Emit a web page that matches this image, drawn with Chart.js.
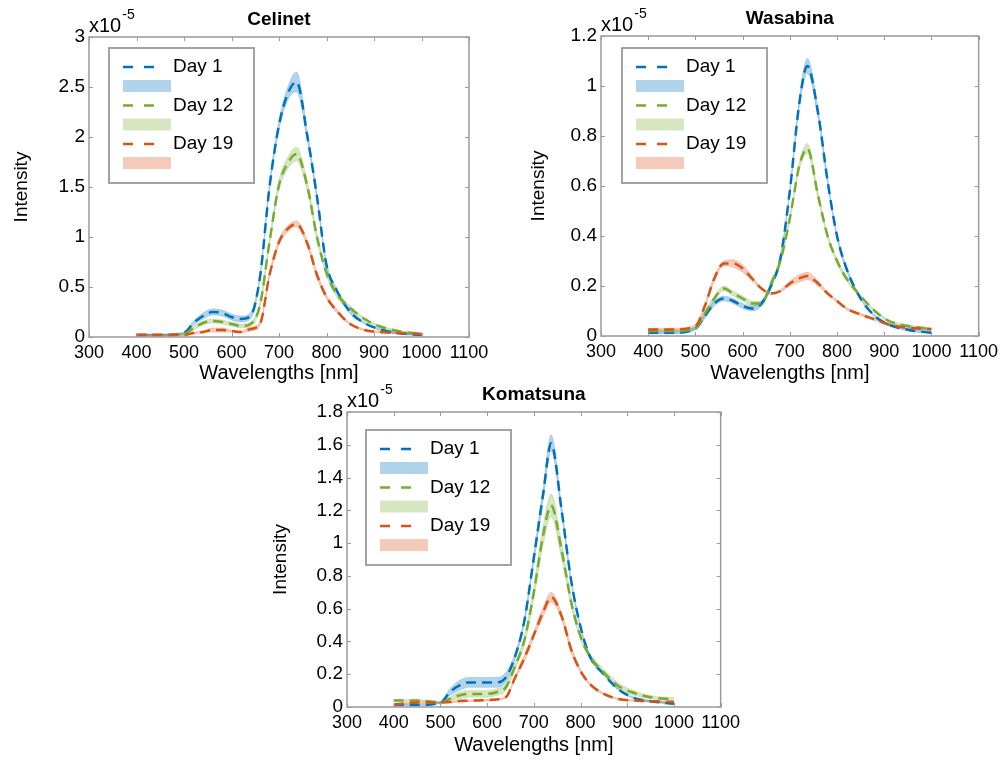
<!DOCTYPE html>
<html>
<head>
<meta charset="utf-8">
<script src="https://cdn.jsdelivr.net/npm/chart.js@4.4.0/dist/chart.umd.min.js"></script>
<style>
  body { margin: 0; background: #fff; width: 1003px; height: 760px; position: relative; overflow: hidden; }
  canvas { position: absolute; }
</style>
</head>
<body>
<canvas id="celinet" width="500" height="385" style="left:0;top:0"></canvas>
<canvas id="wasabina" width="493" height="385" style="left:510px;top:0"></canvas>
<canvas id="komatsuna" width="485" height="380" style="left:260px;top:380px"></canvas>
<script>
// wavelengths (nm) shared by every curve
const wavelengths = [400, 450, 500, 520, 540, 560, 580, 600, 620, 640, 660, 680, 700, 720, 737, 760, 780, 800, 820, 850, 880, 910, 950, 1000];
const xTicks = [300, 400, 500, 600, 700, 800, 900, 1000, 1100];
const seriesNames = ['Day 1', 'Day 12', 'Day 19'];

// intensities in units of 1e-5
const celinetDay1  = [0.02, 0.02, 0.04, 0.14, 0.21, 0.25, 0.24, 0.20, 0.18, 0.21, 0.60, 1.50, 2.12, 2.45, 2.55, 2.00, 1.40, 0.72, 0.48, 0.25, 0.14, 0.08, 0.04, 0.02];
const celinetDay12 = [0.02, 0.02, 0.03, 0.09, 0.14, 0.16, 0.15, 0.13, 0.11, 0.13, 0.32, 0.95, 1.52, 1.75, 1.83, 1.50, 1.00, 0.64, 0.44, 0.29, 0.18, 0.11, 0.06, 0.03];
const celinetDay19 = [0.02, 0.02, 0.02, 0.04, 0.05, 0.07, 0.07, 0.06, 0.05, 0.08, 0.13, 0.62, 0.95, 1.09, 1.13, 0.93, 0.62, 0.40, 0.27, 0.13, 0.07, 0.05, 0.04, 0.03];
const celinetDay1Sd  = [0.01, 0.01, 0.01, 0.02, 0.03, 0.03, 0.03, 0.03, 0.03, 0.03, 0.03, 0.04, 0.05, 0.07, 0.10, 0.05, 0.04, 0.03, 0.02, 0.02, 0.01, 0.01, 0.01, 0.01];
const celinetDay12Sd = [0.01, 0.01, 0.01, 0.02, 0.02, 0.02, 0.02, 0.02, 0.02, 0.02, 0.03, 0.04, 0.05, 0.06, 0.07, 0.05, 0.04, 0.03, 0.03, 0.02, 0.01, 0.01, 0.01, 0.01];
const celinetDay19Sd = [0.01, 0.01, 0.01, 0.01, 0.01, 0.02, 0.02, 0.01, 0.01, 0.02, 0.02, 0.03, 0.03, 0.03, 0.03, 0.03, 0.03, 0.02, 0.02, 0.01, 0.01, 0.01, 0.01, 0.01];
const celinetYTicks = [0, 0.5, 1, 1.5, 2, 2.5, 3];

const wasabinaDay1  = [0.013, 0.013, 0.03, 0.08, 0.13, 0.15, 0.14, 0.12, 0.11, 0.13, 0.20, 0.31, 0.58, 0.93, 1.08, 0.89, 0.62, 0.40, 0.27, 0.15, 0.08, 0.045, 0.025, 0.013];
const wasabinaDay12 = [0.02, 0.02, 0.03, 0.09, 0.15, 0.19, 0.17, 0.15, 0.13, 0.13, 0.21, 0.30, 0.47, 0.68, 0.75, 0.56, 0.40, 0.30, 0.23, 0.16, 0.10, 0.06, 0.04, 0.028];
const wasabinaDay19 = [0.026, 0.026, 0.04, 0.12, 0.23, 0.29, 0.29, 0.27, 0.23, 0.19, 0.17, 0.18, 0.21, 0.23, 0.24, 0.21, 0.17, 0.14, 0.11, 0.086, 0.066, 0.046, 0.033, 0.027];
const wasabinaDay1Sd  = [0.005, 0.005, 0.005, 0.01, 0.01, 0.01, 0.01, 0.01, 0.01, 0.01, 0.01, 0.01, 0.015, 0.02, 0.03, 0.02, 0.015, 0.01, 0.01, 0.005, 0.005, 0.005, 0.005, 0.005];
const wasabinaDay12Sd = [0.005, 0.005, 0.005, 0.01, 0.01, 0.01, 0.01, 0.01, 0.01, 0.01, 0.01, 0.01, 0.01, 0.015, 0.02, 0.015, 0.01, 0.01, 0.01, 0.005, 0.005, 0.005, 0.005, 0.005];
const wasabinaDay19Sd = [0.005, 0.005, 0.005, 0.01, 0.01, 0.01, 0.015, 0.015, 0.01, 0.005, 0.005, 0.005, 0.01, 0.015, 0.015, 0.01, 0.005, 0.005, 0.005, 0.005, 0.005, 0.005, 0.005, 0.005];
const wasabinaYTicks = [0, 0.2, 0.4, 0.6, 0.8, 1, 1.2];

const komatsunaDay1  = [0.012, 0.012, 0.026, 0.09, 0.13, 0.15, 0.15, 0.15, 0.15, 0.18, 0.31, 0.53, 0.91, 1.30, 1.61, 1.19, 0.77, 0.49, 0.31, 0.20, 0.11, 0.06, 0.035, 0.02];
const komatsunaDay12 = [0.04, 0.04, 0.03, 0.05, 0.07, 0.08, 0.08, 0.08, 0.09, 0.12, 0.25, 0.41, 0.70, 1.05, 1.23, 0.95, 0.64, 0.43, 0.31, 0.21, 0.13, 0.09, 0.06, 0.047];
const komatsunaDay19 = [0.016, 0.027, 0.027, 0.03, 0.036, 0.038, 0.04, 0.042, 0.046, 0.06, 0.18, 0.30, 0.44, 0.58, 0.67, 0.55, 0.35, 0.22, 0.14, 0.08, 0.05, 0.04, 0.035, 0.03];
const komatsunaDay1Sd  = [0.005, 0.005, 0.005, 0.02, 0.03, 0.03, 0.03, 0.03, 0.03, 0.03, 0.02, 0.02, 0.03, 0.04, 0.05, 0.03, 0.02, 0.01, 0.01, 0.005, 0.005, 0.005, 0.005, 0.005];
const komatsunaDay12Sd = [0.005, 0.005, 0.005, 0.01, 0.02, 0.02, 0.02, 0.02, 0.02, 0.02, 0.02, 0.03, 0.04, 0.06, 0.07, 0.05, 0.03, 0.02, 0.02, 0.02, 0.02, 0.015, 0.01, 0.01];
const komatsunaDay19Sd = [0.005, 0.005, 0.005, 0.005, 0.005, 0.005, 0.005, 0.005, 0.005, 0.005, 0.01, 0.02, 0.02, 0.03, 0.03, 0.02, 0.02, 0.01, 0.01, 0.005, 0.005, 0.005, 0.005, 0.005];
const komatsunaYTicks = [0, 0.2, 0.4, 0.6, 0.8, 1, 1.2, 1.4, 1.6, 1.8];

// matlab default colours
const lineColors = ['#0072BD', '#77AC30', '#D95319'];
const bandFills = ['rgba(0,114,189,0.3)', 'rgba(119,172,48,0.3)', 'rgba(217,83,25,0.3)'];
const bandEdges = ['rgba(0,114,189,0.2)', 'rgba(119,172,48,0.2)', 'rgba(217,83,25,0.2)'];
const FONT = '"Liberation Sans", Arial, sans-serif';

function pts(vals, sd, sign) {
    return wavelengths.map((w, k) => ({ x: w, y: vals[k] + sign * (sd ? sd[k] : 0) }));
}

// box, inward ticks, title, exponent and legend
const decorPlugin = {
    id: 'decor',
    afterDatasetsDraw(chart) {
        const { ctx, chartArea: a, scales } = chart;
        ctx.save();
        ctx.strokeStyle = '#9a9a9a';
        ctx.lineWidth = 1;
        scales.x.ticks.forEach(t => {
            const px = Math.round(scales.x.getPixelForValue(t.value)) + 0.5;
            ctx.beginPath();
            ctx.moveTo(px, a.bottom); ctx.lineTo(px, a.bottom - 4);
            ctx.moveTo(px, a.top); ctx.lineTo(px, a.top + 4);
            ctx.stroke();
        });
        scales.y.ticks.forEach(t => {
            const py = Math.round(scales.y.getPixelForValue(t.value)) + 0.5;
            ctx.beginPath();
            ctx.moveTo(a.left, py); ctx.lineTo(a.left + 4, py);
            ctx.moveTo(a.right, py); ctx.lineTo(a.right - 4, py);
            ctx.stroke();
        });
        ctx.lineWidth = 1.5;
        ctx.strokeRect(a.left, a.top, a.right - a.left, a.bottom - a.top);
        ctx.restore();
    },
    afterDraw(chart, args, opts) {
        const { ctx, chartArea: a } = chart;
        ctx.save();
        ctx.fillStyle = '#000';
        ctx.textAlign = 'center';
        ctx.textBaseline = 'middle';
        ctx.font = 'bold 19px ' + FONT;
        ctx.fillText(opts.title, (a.left + a.right) / 2, a.top - 17);

        ctx.textAlign = 'left';
        ctx.textBaseline = 'alphabetic';
        ctx.font = '20px ' + FONT;
        ctx.fillText('x10', a.left, a.top - 5);
        const w = ctx.measureText('x10').width;
        ctx.font = '14px ' + FONT;
        ctx.fillText('-5', a.left + w + 1, a.top - 18);

        // legend
        const bx = a.left + opts.legendX, by = a.top + opts.legendY;
        ctx.fillStyle = '#fff';
        ctx.fillRect(bx, by, 145, 135);
        ctx.strokeStyle = '#999';
        ctx.lineWidth = 1.8;
        ctx.strokeRect(bx, by, 145, 135);
        seriesNames.forEach((name, i) => {
            const ly = by + 19 + i * 38.5;
            ctx.strokeStyle = lineColors[i];
            ctx.lineWidth = 2.5;
            ctx.setLineDash([10, 11]);
            ctx.beginPath();
            ctx.moveTo(bx + 14, ly); ctx.lineTo(bx + 52, ly);
            ctx.stroke();
            ctx.setLineDash([]);
            ctx.fillStyle = bandFills[i];
            ctx.fillRect(bx + 14, ly + 13, 48, 12);
            ctx.fillStyle = '#000';
            ctx.font = '19px ' + FONT;
            ctx.textBaseline = 'middle';
            ctx.fillText(name, bx + 64, ly);
        });
        ctx.restore();
    }
};

function buildChart(id, spec) {
    const datasets = [];
    spec.series.forEach((vals, i) => {
        const sd = spec.sd[i];
        datasets.push({ data: pts(vals, sd, -1), borderColor: bandEdges[i], borderWidth: 1, fill: false, order: 20 + i });
        datasets.push({ data: pts(vals, sd, 1), borderColor: bandEdges[i], borderWidth: 1, backgroundColor: bandFills[i], fill: '-1', order: 20 + i });
    });
    spec.series.forEach((vals, i) => {
        datasets.push({ data: pts(vals, null, 0), borderColor: lineColors[i], borderWidth: 2.5, borderDash: [10, 6], fill: false, order: 10 - i });
    });
    datasets.forEach(d => { d.pointRadius = 0; d.cubicInterpolationMode = 'monotone'; });

    return new Chart(document.getElementById(id), {
        type: 'line',
        data: { datasets },
        plugins: [decorPlugin],
        options: {
            responsive: false,
            animation: false,
            events: [],
            layout: { padding: { left: 0, right: spec.padRight, top: spec.padTop, bottom: 0 } },
            plugins: {
                legend: { display: false },
                tooltip: { enabled: false },
                decor: { title: spec.title, legendX: spec.legendX, legendY: spec.legendY }
            },
            scales: {
                x: {
                    type: 'linear', min: 300, max: 1100,
                    afterBuildTicks: s => { s.ticks = xTicks.map(v => ({ value: v })); },
                    afterFit: s => { s.height = spec.xHeight; },
                    grid: { display: false, drawTicks: false },
                    border: { display: false },
                    ticks: { color: '#000', padding: 5, maxRotation: 0, autoSkip: false, font: { family: FONT, size: 18 }, callback: v => String(v) },
                    title: { display: true, text: 'Wavelengths [nm]', color: '#000', font: { family: FONT, size: 20 }, padding: { top: 0, bottom: spec.xTitlePad } }
                },
                y: {
                    type: 'linear', min: 0, max: spec.yTicks[spec.yTicks.length - 1],
                    afterBuildTicks: s => { s.ticks = spec.yTicks.map(v => ({ value: v })); },
                    afterFit: s => { s.width = spec.yWidth; },
                    grid: { display: false, drawTicks: false },
                    border: { display: false },
                    ticks: { color: '#000', padding: 4, autoSkip: false, font: { family: FONT, size: 19 }, callback: v => String(v) },
                    title: { display: true, text: 'Intensity', color: '#000', font: { family: FONT, size: 19 }, padding: { top: spec.yTitlePad, bottom: 0 } }
                }
            }
        }
    });
}

buildChart('celinet', {
    title: 'Celinet',
    series: [celinetDay1, celinetDay12, celinetDay19],
    sd: [celinetDay1Sd, celinetDay12Sd, celinetDay19Sd],
    yTicks: celinetYTicks,
    padTop: 37, padRight: 31, yWidth: 89, xHeight: 48, xTitlePad: 0, yTitlePad: 10,
    legendX: 20, legendY: 11
});
buildChart('wasabina', {
    title: 'Wasabina',
    series: [wasabinaDay1, wasabinaDay12, wasabinaDay19],
    sd: [wasabinaDay1Sd, wasabinaDay12Sd, wasabinaDay19Sd],
    yTicks: wasabinaYTicks,
    padTop: 36, padRight: 21, yWidth: 91, xHeight: 49, xTitlePad: 0, yTitlePad: 17,
    legendX: 21, legendY: 12
});
buildChart('komatsuna', {
    title: 'Komatsuna',
    series: [komatsunaDay1, komatsunaDay12, komatsunaDay19],
    sd: [komatsunaDay1Sd, komatsunaDay12Sd, komatsunaDay19Sd],
    yTicks: komatsunaYTicks,
    padTop: 32, padRight: 23, yWidth: 87, xHeight: 53, xTitlePad: 3, yTitlePad: 9,
    legendX: 19, legendY: 18
});
</script>
</body>
</html>
